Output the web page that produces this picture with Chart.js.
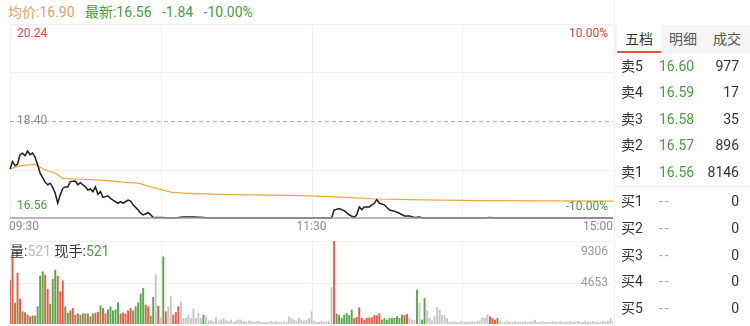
<!DOCTYPE html>
<html>
<head>
<meta charset="utf-8">
<script src="https://cdn.jsdelivr.net/npm/chart.js@4.4.1/dist/chart.umd.min.js"></script>
<style>
  html, body { margin: 0; padding: 0; background: #fff; }
  body { width: 750px; height: 326px; position: relative; overflow: hidden;
         font-family: Roboto, "Noto Sans CJK SC", sans-serif; }
  #head { position: absolute; left: 8px; top: 2px; font-size: 14px; line-height: 20px; white-space: pre; }
  #volHead { position: absolute; left: 10px; top: 241px; font-size: 14px; line-height: 20px; white-space: pre; color: #333; }
  #priceBox { position: absolute; left: 0; top: 18px; width: 620px; height: 222px; }
  #volBox { position: absolute; left: 0; top: 238px; width: 620px; height: 88px; }
  #book { position: absolute; left: 614px; top: 0; width: 136px; height: 326px; border-left: 1px solid #f0f0f0; }
  .tabs { position: absolute; left: 0; top: 25px; width: 136px; height: 28px; background: #f5f5f5; }
  .tab { position: absolute; top: 0; height: 28px; line-height: 28px; font-size: 14px; color: #555; text-align: center; }
  .tab.on { background: #fff; color: #333; border-bottom: 2px solid #e05a45; height: 26px; line-height: 28px; }
  .row { position: absolute; left: 0; width: 136px; height: 26.6px; line-height: 26.6px; font-size: 14px; }
  .row .l { position: absolute; left: 6px; color: #333; }
  .row .p { position: absolute; left: 44px; color: #4a9b3f; }
  .row .p.none { color: #aaa; letter-spacing: 2px; }
  .row .v { position: absolute; right: 12px; color: #333; }
  .sep { position: absolute; left: 0; width: 136px; top: 186px; border-top: 1px solid #eee; }
</style>
</head>
<body>
<div id="head"></div>
<div id="priceBox"><canvas id="priceChart"></canvas></div>
<div id="volBox"><canvas id="volChart"></canvas></div>
<div id="volHead"></div>
<div id="book"></div>
<script>
// header numbers
const avgPrice = '16.90';
const lastPrice = '16.56';
const change = '-1.84';
const changePct = '-10.00%';
const curVol = '521';
const handVol = '521';

// axis labels
const timeTicks = [0, 120, 240];
const timeLabels = ['09:30', '11:30', '15:00'];
const gridMinutes = [60, 120, 180];
const priceTop = 20.24;
const prevClose = 18.40;
const priceBottom = 16.56;
const pctTop = '10.00%';
const pctBottom = '-10.00%';
const volTicks = [9306, 4653];

// price line (minute index, price)
const priceMinutes = [0,1,2,3,4,5,6,7,8,9,10,11,12,14,15,16,17,18,19,20,21,22,23,24,26,27,28,29,30,31,
  32,33,34,35,36,37,39,40,41,43,44,45,47,48,49,51,52,53,55,56,57,60,64,67,69,73,77,79,128,129,
  131,133,135,137,138,139,140,141,143,145,146,147,149,151,153,155,157,159,161,163,164,189,191,193,240];
const priceValues = [17.49,17.63,17.55,17.58,17.76,17.79,17.74,17.83,17.76,17.79,17.71,17.57,17.41,17.24,17.19,17.22,17.14,17.03,16.84,17.00,
  17.12,17.15,17.15,17.25,17.26,17.19,17.23,17.19,17.15,17.09,17.11,17.06,17.15,17.01,17.06,16.95,16.98,16.93,16.90,16.84,
  16.87,16.84,16.90,16.88,16.81,16.71,16.65,16.62,16.66,16.62,16.57,16.57,16.56,16.57,16.58,16.58,16.57,16.56,16.56,16.71,
  16.74,16.70,16.62,16.57,16.62,16.77,16.72,16.77,16.77,16.84,16.91,16.84,16.81,16.71,16.69,16.65,16.60,16.60,16.57,16.58,
  16.56,16.56,16.57,16.56,16.56];

// average price line
const avgMinutes = [0,4,10,11,14,18,21,26,36,45,51,56,60,64,69,83,96,109,120,129,133,146,159,172,187,240];
const avgValues = [17.49,17.55,17.58,17.55,17.47,17.41,17.31,17.30,17.28,17.24,17.22,17.15,17.10,17.05,17.03,
  17.01,17.00,16.99,16.98,16.96,16.95,16.92,16.91,16.90,16.89,16.88];

// volume per minute, and direction (1 up, -1 down, 0 flat)
const volumes = [
  4930,7900,2350,5700,2800,1380,1270,1000,820,900,
  900,1940,5380,5860,5490,3920,2240,5000,6050,5380,
  3620,4850,1940,1230,1490,1760,1000,1140,1000,1140,
  1140,1140,820,1140,1230,1320,2050,1760,1140,1600,
  1940,1490,1600,2390,1140,1230,1140,1490,1760,1490,
  1940,2390,3360,3990,2130,1940,900,2990,5490,2000,
  700,7540,1380,1940,3140,1010,1300,1940,2500,640,
  700,1010,640,1680,640,1200,640,1010,830,380,
  380,300,700,300,450,640,420,300,450,190,
  340,450,450,300,190,340,300,190,300,340,
  190,190,190,190,300,190,300,190,190,300,
  190,820,640,450,340,640,420,340,450,640,
  1380,340,190,190,340,190,190,340,4070,9306,
  1120,1010,640,1010,1190,950,1570,620,750,1830,
  640,450,640,700,700,950,950,1160,450,620,
  450,640,620,640,830,640,1010,950,1080,620,
  450,450,3810,2310,450,2870,1450,640,340,830,
  1870,1570,1010,950,640,190,190,300,190,190,
  300,190,190,190,300,190,300,340,700,640,
  1010,830,620,450,640,340,190,190,300,190,
  190,300,190,190,190,300,190,190,300,450,
  190,190,300,190,190,190,300,190,190,300,
  190,190,190,300,190,190,300,190,190,340,
  190,190,300,190,190,190,300,190,300,640,
  300
];
const volDirs = [
  1,1,-1,1,1,-1,1,1,-1,1,
  -1,-1,-1,-1,1,1,-1,-1,-1,1,
  1,1,-1,-1,1,1,-1,1,-1,-1,
  1,-1,1,-1,1,1,-1,1,1,-1,
  -1,-1,-1,-1,1,1,1,1,1,-1,
  -1,-1,-1,-1,1,1,-1,-1,0,1,
  0,-1,1,0,0,1,1,1,0,0,
  0,0,0,0,0,0,0,-1,0,0,
  0,0,0,0,0,0,0,0,0,0,
  0,0,0,0,0,0,0,0,0,0,
  0,0,0,0,0,0,0,0,0,0,
  0,0,0,0,0,0,0,0,0,0,
  0,0,0,0,0,0,0,0,0,1,
  -1,-1,-1,-1,-1,-1,-1,1,1,1,
  1,1,1,1,1,1,1,1,-1,-1,
  -1,-1,-1,-1,-1,-1,-1,1,1,0,
  0,0,-1,0,-1,-1,0,0,0,0,
  0,0,0,0,0,0,0,0,0,0,
  0,0,0,0,0,0,0,0,0,0,
  0,1,1,1,-1,0,0,0,0,0,
  0,0,0,0,0,0,0,0,0,0,
  0,0,0,0,0,0,0,0,0,0,
  0,0,0,0,0,0,0,0,0,0,
  0,0,0,0,0,0,0,0,0,0,
  0
];

// order book
const askLabels = ['卖5', '卖4', '卖3', '卖2', '卖1'];
const askPrices = ['16.60', '16.59', '16.58', '16.57', '16.56'];
const askVols = [977, 17, 35, 896, 8146];
const bidLabels = ['买1', '买2', '买3', '买4', '买5'];
const bidPrices = ['--', '--', '--', '--', '--'];
const bidVols = [0, 0, 0, 0, 0];
const tabNames = ['五档', '明细', '成交'];

const RED = '#d9483b';
const GREEN = '#4a9b3f';
const GRAY_TXT = '#8a8a8a';
const FONT = 'Roboto, "Noto Sans CJK SC", sans-serif';

// header texts
document.getElementById('head').innerHTML =
  '<span style="color:#dba266">均价:' + avgPrice + '</span>   ' +
  '<span style="color:' + GREEN + '">最新:' + lastPrice + '   ' + change + '   ' + changePct + '</span>';
document.getElementById('volHead').innerHTML =
  '量:<span style="color:#bbb">' + curVol + '</span> 现手:<span style="color:' + GREEN + '">' + handVol + '</span>';

// order book
function buildBook() {
  const book = document.getElementById('book');
  let html = '<div class="tabs">';
  const tabX = [[2, 44], [46, 44], [90, 44]];
  tabNames.forEach((t, i) => {
    html += '<span class="tab' + (i === 0 ? ' on' : '') + '" style="left:' + tabX[i][0] + 'px;width:' + tabX[i][1] + 'px">' + t + '</span>';
  });
  html += '</div>';
  askLabels.forEach((l, i) => {
    html += '<div class="row" style="top:' + (52.5 + i * 26.6) + 'px"><span class="l">' + l + '</span>' +
      '<span class="p">' + askPrices[i] + '</span><span class="v">' + askVols[i] + '</span></div>';
  });
  html += '<div class="sep"></div>';
  bidLabels.forEach((l, i) => {
    html += '<div class="row" style="top:' + (188.4 + i * 26.6) + 'px"><span class="l">' + l + '</span>' +
      '<span class="p none">' + bidPrices[i] + '</span><span class="v">' + bidVols[i] + '</span></div>';
  });
  book.innerHTML = html;
}
buildBook();

function hline(ctx, x1, x2, y) {
  ctx.beginPath(); ctx.moveTo(x1, y); ctx.lineTo(x2, y); ctx.stroke();
}
function vline(ctx, x, y1, y2) {
  ctx.beginPath(); ctx.moveTo(x, y1); ctx.lineTo(x, y2); ctx.stroke();
}

const priceDecor = {
  id: 'priceDecor',
  beforeDatasetsDraw(chart) {
    const { ctx, chartArea: a, scales: { x, y } } = chart;
    ctx.save();
    ctx.strokeStyle = '#f0f0f0';
    ctx.lineWidth = 1;
    gridMinutes.forEach(m => vline(ctx, Math.round(x.getPixelForValue(m)) + 0.5, a.top, a.bottom));
    const q1 = (priceTop + prevClose) / 2, q3 = (priceBottom + prevClose) / 2;
    [priceTop, q1, q3].forEach(p => hline(ctx, a.left, a.right, Math.round(y.getPixelForValue(p)) + 0.5));
    vline(ctx, Math.round(a.left) + 0.5, a.top, a.bottom);
    ctx.restore();
  },
  afterDatasetsDraw(chart) {
    const { ctx, chartArea: a, scales: { x, y } } = chart;
    ctx.save();
    // previous close dashed line
    ctx.strokeStyle = '#b5b5b5';
    ctx.lineWidth = 1;
    ctx.setLineDash([4, 3]);
    hline(ctx, a.left, a.right, Math.round(y.getPixelForValue(prevClose)) + 0.5);
    ctx.setLineDash([]);
    // bottom axis line
    ctx.strokeStyle = '#a0a0a0';
    ctx.lineWidth = 1.5;
    hline(ctx, a.left, a.right, y.getPixelForValue(priceBottom));

    ctx.font = '12px ' + FONT;
    ctx.textBaseline = 'middle';
    ctx.textAlign = 'left';
    ctx.fillStyle = RED;
    ctx.fillText(priceTop.toFixed(2), a.left + 7, y.getPixelForValue(priceTop) + 10);
    ctx.fillStyle = GRAY_TXT;
    ctx.fillText(prevClose.toFixed(2), a.left + 7, y.getPixelForValue(prevClose));
    ctx.fillStyle = GREEN;
    ctx.fillText(priceBottom.toFixed(2), a.left + 7, y.getPixelForValue(priceBottom) - 12);
    ctx.textAlign = 'right';
    ctx.fillStyle = RED;
    ctx.fillText(pctTop, a.right - 5, y.getPixelForValue(priceTop) + 10);
    ctx.fillStyle = GREEN;
    ctx.fillText(pctBottom, a.right - 5, y.getPixelForValue(priceBottom) - 11);

    // time labels
    ctx.fillStyle = GRAY_TXT;
    const ty = a.bottom + 9;
    timeTicks.forEach((t, i) => {
      ctx.textAlign = i === 0 ? 'left' : (i === timeTicks.length - 1 ? 'right' : 'center');
      let px = x.getPixelForValue(t);
      if (i === 0) px -= 1;
      ctx.fillText(timeLabels[i], px, ty);
    });
    ctx.restore();
  }
};

const volDecor = {
  id: 'volDecor',
  beforeDatasetsDraw(chart) {
    const { ctx, chartArea: a, scales: { x, y } } = chart;
    ctx.save();
    ctx.strokeStyle = '#f0f0f0';
    ctx.lineWidth = 1;
    gridMinutes.forEach(m => vline(ctx, Math.round(x.getPixelForValue(m)) + 0.5, a.top, a.bottom));
    volTicks.forEach(v => hline(ctx, a.left, a.right, Math.round(y.getPixelForValue(v)) + 0.5));
    vline(ctx, Math.round(a.left) + 0.5, a.top, a.bottom);
    ctx.restore();
  },
  afterDatasetsDraw(chart) {
    const { ctx, chartArea: a, scales: { y } } = chart;
    ctx.save();
    ctx.font = '12px ' + FONT;
    ctx.textBaseline = 'middle';
    ctx.textAlign = 'right';
    ctx.fillStyle = '#999';
    ctx.fillText(String(volTicks[0]), a.right - 5, y.getPixelForValue(volTicks[0]) + 11);
    ctx.fillText(String(volTicks[1]), a.right - 5, y.getPixelForValue(volTicks[1]));
    ctx.restore();
  }
};

const hiddenX = { type: 'linear', min: 0, max: 240, display: false, offset: false };

new Chart(document.getElementById('priceChart'), {
  type: 'line',
  data: {
    datasets: [
      {
        label: '价格',
        data: priceMinutes.map((m, i) => ({ x: m, y: priceValues[i] })),
        borderColor: '#1e1e1e',
        borderWidth: 1.5,
        pointRadius: 0,
        tension: 0,
        clip: false,
        order: 1
      },
      {
        label: '均价',
        data: avgMinutes.map((m, i) => ({ x: m, y: avgValues[i] })),
        borderColor: '#f3a53c',
        borderWidth: 1.2,
        pointRadius: 0,
        tension: 0,
        order: 2
      }
    ]
  },
  options: {
    responsive: true,
    maintainAspectRatio: false,
    animation: false,
    devicePixelRatio: 1,
    layout: { padding: { left: 10, right: 7, top: 6, bottom: 22 } },
    scales: {
      x: hiddenX,
      y: { type: 'linear', min: priceBottom, max: priceTop, display: false }
    },
    plugins: { legend: { display: false }, tooltip: { enabled: false } }
  },
  plugins: [priceDecor]
});

new Chart(document.getElementById('volChart'), {
  type: 'bar',
  data: {
    datasets: [{
      label: '成交量',
      data: volumes.map((v, i) => ({ x: i, y: v })),
      backgroundColor: volDirs.map(d => d > 0 ? '#e45e4b' : (d < 0 ? '#5da84c' : '#c8c8c8')),
      barThickness: 1.3,
      borderWidth: 0
    }]
  },
  options: {
    responsive: true,
    maintainAspectRatio: false,
    animation: false,
    devicePixelRatio: 1,
    layout: { padding: { left: 10, right: 7, top: 3, bottom: 2 } },
    scales: {
      x: hiddenX,
      y: { type: 'linear', min: 0, max: volTicks[0], display: false }
    },
    plugins: { legend: { display: false }, tooltip: { enabled: false } }
  },
  plugins: [volDecor]
});
</script>
</body>
</html>
